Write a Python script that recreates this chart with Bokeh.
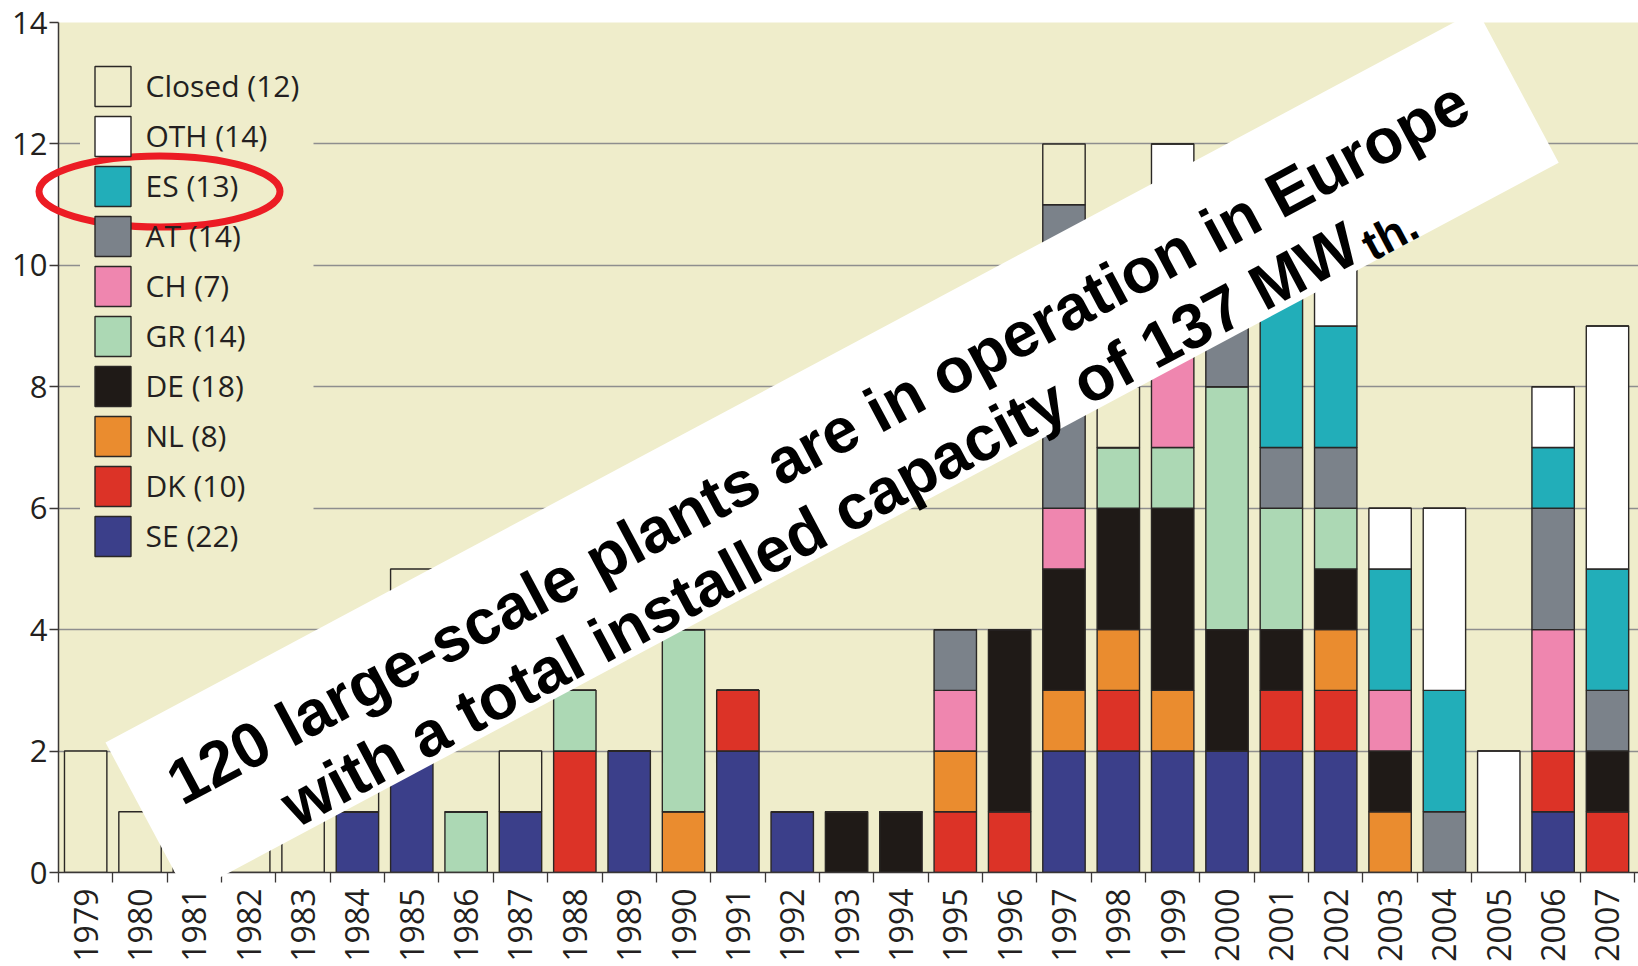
import math
from bokeh.plotting import figure
from bokeh.models import (ColumnDataSource, Range1d, FixedTicker, Legend, LegendItem,
                          BoxAnnotation)
from bokeh.core.properties import value
from bokeh.embed import file_html
from bokeh.resources import INLINE

# ---------------- data ----------------
years = list(range(1979, 2008))
#        79 80 81 82 83 84 85 86 87 88 89 90 91 92 93 94 95 96 97 98 99 00 01 02 03 04 05 06 07
SE     = [0, 0, 0, 0, 0, 1, 2, 0, 1, 0, 2, 0, 2, 1, 0, 0, 0, 0, 2, 2, 2, 2, 2, 2, 0, 0, 0, 1, 0]
DK     = [0, 0, 0, 0, 0, 0, 0, 0, 0, 2, 0, 0, 1, 0, 0, 0, 1, 1, 0, 1, 0, 0, 1, 1, 0, 0, 0, 1, 1]
NL     = [0, 0, 0, 0, 0, 0, 1, 0, 0, 0, 0, 1, 0, 0, 0, 0, 1, 0, 1, 1, 1, 0, 0, 1, 1, 0, 0, 0, 0]
DE     = [0, 0, 0, 0, 0, 0, 0, 0, 0, 0, 0, 0, 0, 0, 1, 1, 0, 3, 2, 2, 3, 2, 1, 1, 1, 0, 0, 0, 1]
GR     = [0, 0, 0, 0, 0, 0, 0, 1, 0, 1, 0, 3, 0, 0, 0, 0, 0, 0, 0, 1, 1, 4, 2, 1, 0, 0, 0, 0, 0]
CH     = [0, 0, 0, 0, 0, 0, 0, 0, 0, 0, 0, 0, 0, 0, 0, 0, 1, 0, 1, 0, 2, 0, 0, 0, 1, 0, 0, 2, 0]
AT     = [0, 0, 0, 0, 0, 0, 0, 0, 0, 0, 0, 0, 0, 0, 0, 0, 1, 0, 5, 0, 1, 1, 1, 1, 0, 1, 0, 2, 1]
ES     = [0, 0, 0, 0, 0, 0, 0, 0, 0, 0, 0, 0, 0, 0, 0, 0, 0, 0, 0, 0, 0, 0, 4, 2, 2, 2, 0, 1, 2]
OTH    = [0, 0, 0, 0, 0, 0, 0, 0, 0, 0, 0, 0, 0, 0, 0, 0, 0, 0, 0, 0, 2, 0, 0, 1, 1, 3, 2, 1, 4]
Closed = [2, 1, 1, 1, 1, 1, 2, 0, 1, 0, 0, 0, 0, 0, 0, 0, 0, 0, 1, 1, 0, 0, 0, 0, 0, 0, 0, 0, 0]

series = ["SE", "DK", "NL", "DE", "GR", "CH", "AT", "ES", "OTH", "Closed"]
legend_labels = ["SE (22)", "DK (10)", "NL (8)", "DE (18)", "GR (14)",
                 "CH (7)", "AT (14)", "ES (13)", "OTH (14)", "Closed (12)"]
y_ticks = [0, 2, 4, 6, 8, 10, 12, 14]

banner_line1 = "120 large-scale plants are in operation in Europe"
banner_line2 = "with a total installed capacity of 137 MW"
banner_sub = "th."

# ---------------- styles ----------------
BG = "#efedcb"
colors = ["#3b3f8a", "#dc3327", "#ea8c2f", "#1f1a17", "#acd8b4",
          "#ef86af", "#7b828a", "#22aeb9", "#ffffff", BG]
OUTLINE = "#2a2725"
AXIS = "#3a3736"
TXT = "#231f20"
FONT = "Open Sans"

W, H = 1638, 966
BL, BT, BB = 58, 22, 94
frame_w = W - BL
frame_h = H - BT - BB
X0 = 1978.5
PX_PER_CAT = 54.35
X1 = X0 + frame_w / PX_PER_CAT
YMAX = 14

FRAME_LEFT_PX = BL
FRAME_BOTTOM_PX = BT + frame_h
SY = frame_h / YMAX


def xd(px):
    return X0 + (px - FRAME_LEFT_PX) / PX_PER_CAT


def yd(py):
    return (FRAME_BOTTOM_PX - py) / SY


src = ColumnDataSource(dict(year=years, SE=SE, DK=DK, NL=NL, DE=DE, GR=GR,
                            CH=CH, AT=AT, ES=ES, OTH=OTH, Closed=Closed))

p = figure(width=W, height=H, x_range=Range1d(X0, X1), y_range=Range1d(0, YMAX),
           output_backend="svg", toolbar_location=None,
           min_border_left=BL, min_border_right=0, min_border_top=BT, min_border_bottom=BB,
           background_fill_color=BG, border_fill_color="white", outline_line_color=None)

# grid
p.xgrid.visible = False
p.ygrid.ticker = FixedTicker(ticks=y_ticks[1:])
p.ygrid.grid_line_color = "#8e8e8e"
p.ygrid.grid_line_width = 1.3

# beige panel behind the legend that hides the grid lines there
p.add_layout(BoxAnnotation(left=xd(79.5), right=xd(313), top=yd(52), bottom=yd(572),
                           fill_color=BG, fill_alpha=1.0, line_color=None, level="underlay"))

rends = p.vbar_stack(series, x="year", width=0.78, source=src,
                     fill_color=colors, line_color=OUTLINE, line_width=1.4)

# legend (top entry = Closed)
items = [LegendItem(label=lab, renderers=[r]) for lab, r in zip(legend_labels, rends)][::-1]
legend = Legend(items=items, location=(31.5, 311.5), glyph_width=45, glyph_height=50,
                spacing=0, padding=10, margin=0, label_standoff=11,
                label_text_font=FONT, label_text_font_size="30px", label_text_color=TXT,
                label_height=50, background_fill_alpha=0.0,
                border_line_color=None, level="annotation")
p.add_layout(legend)

# axes
p.yaxis.ticker = FixedTicker(ticks=y_ticks)
p.yaxis.major_tick_out = 9
p.yaxis.major_tick_in = 0
p.yaxis.major_tick_line_color = AXIS
p.yaxis.major_tick_line_width = 1.3
p.yaxis.minor_tick_line_color = None
p.yaxis.axis_line_color = AXIS
p.yaxis.axis_line_width = 1.5
p.yaxis.major_label_text_font = FONT
p.yaxis.major_label_text_font_size = "31px"
p.yaxis.major_label_text_color = TXT
p.yaxis.major_label_standoff = 2

p.xaxis.ticker = FixedTicker(ticks=years, minor_ticks=[y - 0.5 for y in years] + [years[-1] + 0.5])
p.xaxis.major_label_overrides = {y: str(y) for y in years}
p.xaxis.major_tick_line_color = None
p.xaxis.major_tick_out = 10
p.xaxis.major_tick_in = 0
p.xaxis.minor_tick_out = 10
p.xaxis.minor_tick_in = 0
p.xaxis.minor_tick_line_color = AXIS
p.xaxis.minor_tick_line_width = 1.3
p.xaxis.axis_line_color = AXIS
p.xaxis.axis_line_width = 1.5
p.xaxis.major_label_orientation = math.pi / 2
p.xaxis.major_label_text_font = FONT
p.xaxis.major_label_text_font_size = "32px"
p.xaxis.major_label_text_color = TXT
p.xaxis.major_label_standoff = 6

# ---------------- annotations (banner + ellipse) ----------------
th = math.radians(28.1)
tvx, tvy = math.cos(th), -math.sin(th)
nvx, nvy = math.sin(th), math.cos(th)
AX, AY = 105.0, 742.0
BLEN, BWID = 1555.0, 173.0


def pt(t, perp):
    return AX + t * tvx + perp * nvx, AY + t * tvy + perp * nvy


corners = [pt(0, 0), pt(BLEN, 0), pt(BLEN, BWID), pt(0, BWID)]
p.patch([xd(c[0]) for c in corners], [yd(c[1]) for c in corners],
        fill_color="white", line_color=None, level="overlay")

BFONT = value("Liberation Sans")
l1 = pt(770, 70.5)
p.text(x=[xd(l1[0])], y=[yd(l1[1])], text=[banner_line1], angle=th,
       text_font=BFONT, text_font_style="bold", text_font_size="63.5px",
       text_color="black", text_align="center", text_baseline="alphabetic", level="overlay")
l2 = pt(1338, 144)
p.text(x=[xd(l2[0])], y=[yd(l2[1])], text=[banner_line2], angle=th,
       text_font=BFONT, text_font_style="bold", text_font_size="63.5px",
       text_color="black", text_align="right", text_baseline="alphabetic", level="overlay")
l3 = pt(1344, 157)
p.text(x=[xd(l3[0])], y=[yd(l3[1])], text=[banner_sub], angle=th,
       text_font=BFONT, text_font_style="bold", text_font_size="46px",
       text_color="black", text_align="left", text_baseline="alphabetic", level="overlay")

# red ellipse around the ES legend entry
p.ellipse(x=[xd(159.0)], y=[yd(191.0)], width=241, height=71,
          width_units="screen", height_units="screen",
          fill_color=None, line_color="#ec1c24", line_width=7, level="overlay")

open("out.html", "w").write(file_html(p, INLINE))
